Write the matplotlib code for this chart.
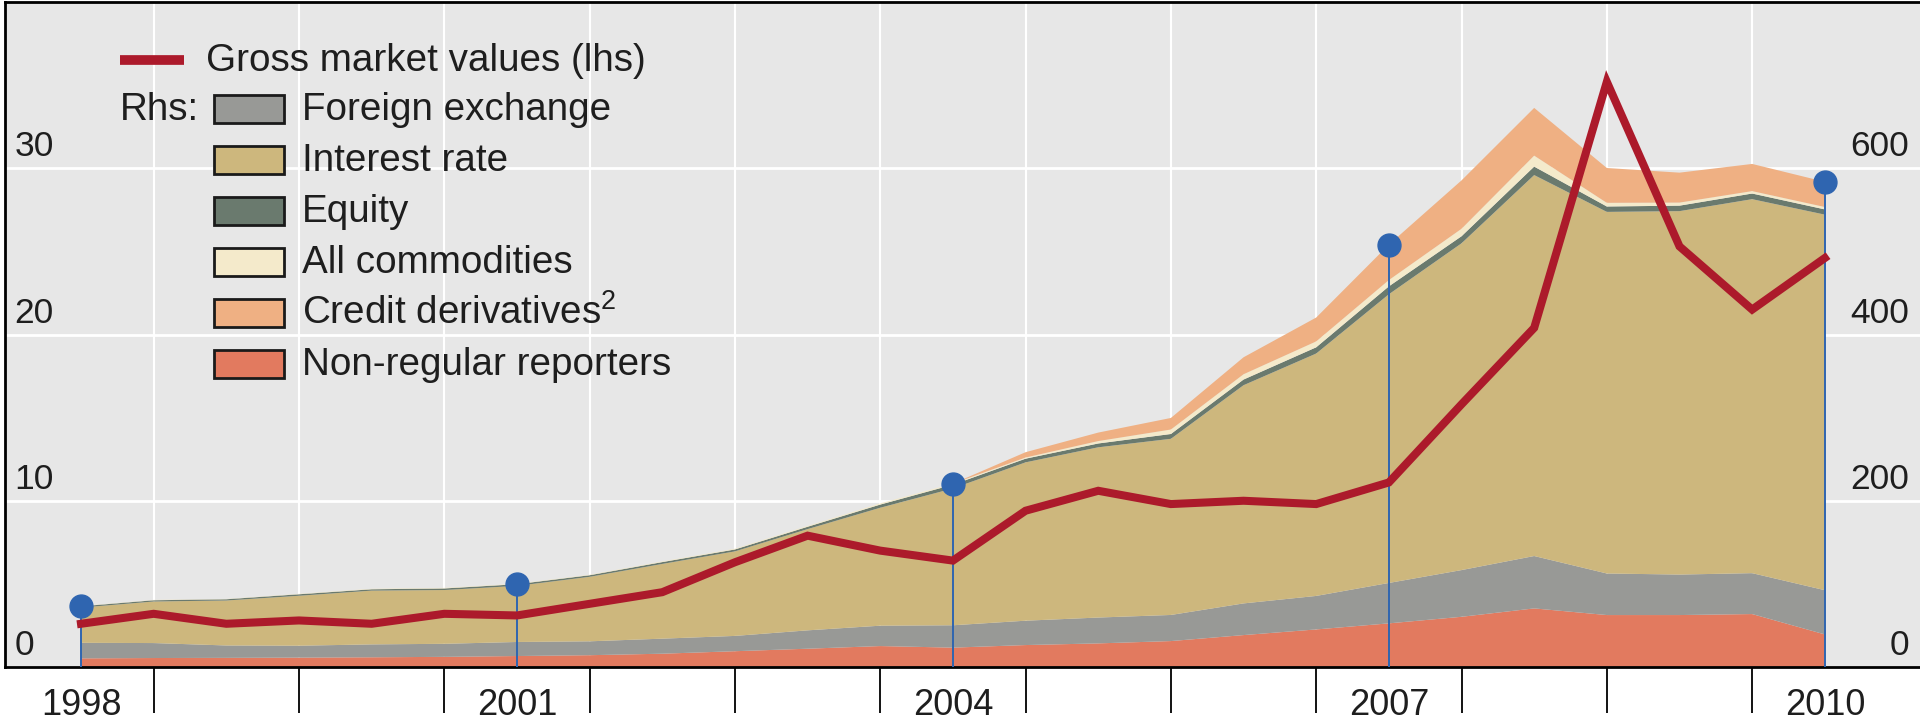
import numpy as np
import matplotlib
matplotlib.use('Agg')
from matplotlib import pyplot as plt
from matplotlib.patches import Rectangle
from matplotlib.lines import Line2D
import matplotlib.transforms as mtransforms

plt.rcParams['font.family'] = ['Liberation Sans', 'DejaVu Sans']
plt.rcParams['mathtext.fontset'] = 'custom'
plt.rcParams['mathtext.rm'] = 'Liberation Sans'

# half-yearly observations, end-June 1998 .. end-June 2010
periods = np.arange(25)
year_pos = [0, 6, 12, 18, 24]
year_labels = ['1998', '2001', '2004', '2007', '2010']

# gross market values, USD trn (lhs)
gross_mv = [2.6, 3.2, 2.6, 2.8, 2.6, 3.2, 3.1, 3.8, 4.5, 6.3, 7.9, 7.0, 6.4,
            9.4, 10.6, 9.8, 10.0, 9.8, 11.1, 15.8, 20.4, 35.2, 25.3, 21.5, 24.6]

# notional amounts, USD trn (rhs)
non_regular = [10.4, 10.8, 11.0, 11.3, 11.7, 12.2, 13.2, 14.2, 16.0, 19.0, 22.0, 25.2, 23.3,
               26.4, 28.4, 31.2, 38.4, 45.2, 52.5, 60.4, 70.5, 62.5, 62.5, 63.7, 39.2]
fx = [18.7, 18.0, 14.9, 14.3, 15.5, 15.7, 16.9, 16.7, 18.1, 18.4, 22.1, 24.5, 26.9,
      29.3, 31.1, 31.4, 38.1, 40.3, 48.6, 56.2, 63.0, 50.0, 48.7, 49.2, 53.2]
interest = [42.4, 50.0, 54.1, 60.1, 64.7, 64.7, 67.5, 77.6, 89.9, 101.7, 121.8, 141.9, 164.6,
            190.5, 204.8, 211.9, 262.5, 291.6, 347.3, 393.1, 458.3, 435.0, 437.2, 449.9, 451.8]
equity = [1.5, 1.5, 1.5, 1.8, 1.6, 1.9, 2.0, 1.9, 2.2, 2.3, 2.8, 3.8, 4.5,
          4.4, 4.6, 5.8, 6.8, 7.5, 9.5, 8.5, 10.2, 6.5, 6.6, 6.8, 6.3]
commodities = [0.4, 0.4, 0.4, 0.5, 0.6, 0.7, 0.6, 0.6, 0.8, 0.9, 1.0, 1.4, 1.3,
               1.4, 2.9, 5.4, 6.4, 7.1, 7.6, 9.0, 13.2, 4.4, 3.7, 2.9, 2.9]
credit = [0, 0, 0, 0, 0, 0, 0, 0, 0, 0, 0, 0, 0,
          6.4, 10.2, 13.9, 20.4, 28.7, 42.6, 58.2, 57.4, 41.9, 36.0, 32.7, 30.3]

c_nr = '#E27A5F'
c_fx = '#989996'
c_ir = '#CDB77D'
c_eq = '#6A7A6E'
c_com = '#F4EACB'
c_cds = '#EFB083'
c_red = '#AC1A2B'
c_blue = '#2F65B0'
txt = '#1E1E1E'

W, H = 1920, 721
fig = plt.figure(figsize=(W / 100, H / 100), dpi=100)
ax = fig.add_axes([5 / W, 54 / H, 1915 / W, 665 / H])
ax.set_facecolor('#E7E7E7')
ax2 = ax.twinx()   # lhs: gross market values
ax3 = ax.twinx()   # markers on top

stack = np.array([non_regular, fx, interest, equity, commodities, credit])
ax.stackplot(periods, stack, colors=[c_nr, c_fx, c_ir, c_eq, c_com, c_cds],
             lw=0, zorder=2)

totals = stack.sum(axis=0)
ax.vlines(year_pos, 0, totals[year_pos], color=c_blue, lw=1.4, zorder=3)

ax.set_xlim(-1.046, 25.31)
ax.set_ylim(0, 800)
ax.set_yticks([0, 200, 400, 600])
ax.yaxis.tick_right()
ax.tick_params(axis='y', length=0, pad=-8, labelsize=25.5, labelcolor=txt)

ax.set_xticks(np.arange(1, 24, 2))
ax.set_xticklabels([])
ax.set_xticks(year_pos, labels=year_labels, minor=True)
ax.tick_params(axis='x', which='major', length=33, width=1.3, color='black', direction='out')
ax.tick_params(axis='x', which='minor', length=0, pad=15, labelsize=26, labelcolor=txt)

ax.grid(axis='y', color='white', lw=2)
ax.grid(axis='x', which='major', color='white', lw=1.5)
ax.set_axisbelow(True)

for s in ['left', 'top', 'bottom']:
    ax.spines[s].set_color('black')
    ax.spines[s].set_linewidth(2)
ax.spines['right'].set_visible(False)

ax2.plot(periods, gross_mv, color=c_red, lw=5.8, solid_joinstyle='miter', zorder=4)
ax2.set_ylim(0, 40)
ax2.set_yticks([0, 10, 20, 30])
ax2.yaxis.tick_left()
ax2.tick_params(axis='y', length=0, pad=-7, labelsize=25.5, labelcolor=txt)
for s in ax2.spines.values():
    s.set_visible(False)

ax3.set_ylim(0, 800)
ax3.plot(year_pos, totals[year_pos], 'o', ms=16.5, color=c_blue, zorder=5)
ax3.set_yticks([])
for s in ax3.spines.values():
    s.set_visible(False)

off = mtransforms.ScaledTranslation(0, 8.5 / 72, fig.dpi_scale_trans)
for lab in ax.get_yticklabels():
    lab.set_ha('right')
    lab.set_va('baseline')
    lab.set_transform(lab.get_transform() + off)
for lab in ax2.get_yticklabels():
    lab.set_ha('left')
    lab.set_va('baseline')
    lab.set_transform(lab.get_transform() + off)

# legend
def fy(y):
    return 1 - y / H

rows = [60, 109, 160, 211, 262, 313, 364]
fs = 27.8
fig.add_artist(Line2D([120 / W, 184 / W], [fy(rows[0])] * 2, transform=fig.transFigure,
                      color=c_red, lw=7, solid_capstyle='butt'))
fig.text(206 / W, fy(rows[0] + 11), 'Gross market values (lhs)', fontsize=fs,
         color=txt, va='baseline')
fig.text(120 / W, fy(rows[1] + 11), 'Rhs:', fontsize=fs, color=txt, va='baseline')
entries = [('Foreign exchange', c_fx), ('Interest rate', c_ir), ('Equity', c_eq),
           ('All commodities', c_com), ('Credit derivatives$^{2}$', c_cds),
           ('Non-regular reporters', c_nr)]
for (name, col), y in zip(entries, rows[1:]):
    fig.add_artist(Rectangle((214 / W, fy(y + 14)), 70 / W, 28 / H, transform=fig.transFigure,
                             facecolor=col, edgecolor='#1A1A1A', lw=2))
    fig.text(302 / W, fy(y + 11), name, fontsize=fs, color=txt, va='baseline')

fig.savefig('out.png', dpi=100, facecolor='white')
